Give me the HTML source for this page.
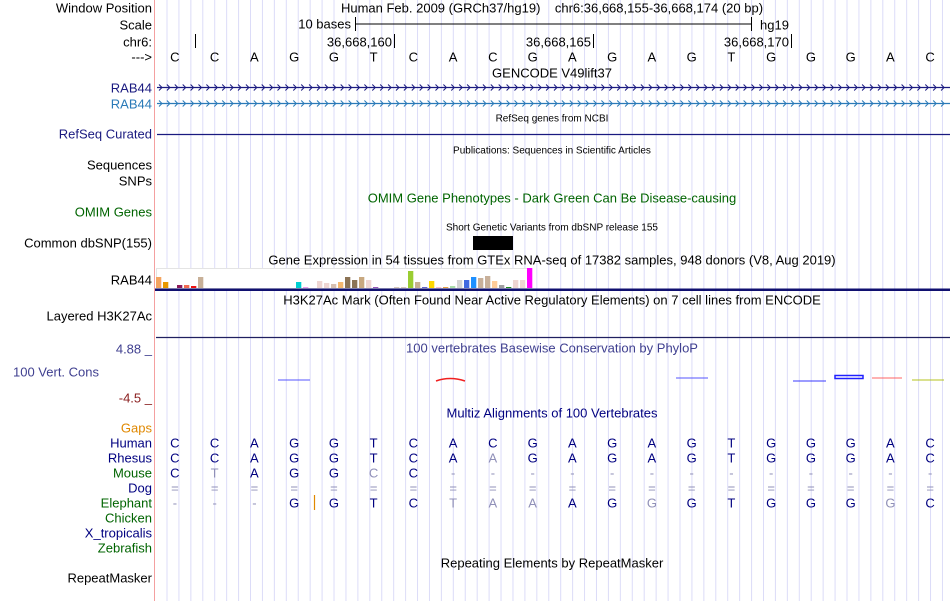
<!DOCTYPE html>
<html><head><meta charset="utf-8"><style>
html,body{margin:0;padding:0;background:#fff}
svg{display:block;font-family:"Liberation Sans",sans-serif}
text{white-space:pre}
</style></head><body>
<svg id="c" width="950" height="601" viewBox="0 0 950 601">
<g id="grid"></g>
<line x1="154.5" y1="0" x2="154.5" y2="601" stroke="#f4a0a0" stroke-width="1"/>
<g id="labels" font-size="13" text-anchor="end" dominant-baseline="central"></g>
<g id="tracks"></g>
</svg>
<script>
const NS='http://www.w3.org/2000/svg';
const svg=document.getElementById('c');
function el(tag,attrs,parent,text){const e=document.createElementNS(NS,tag);for(const k in attrs)e.setAttribute(k,attrs[k]);if(text!==undefined)e.textContent=text;(parent||svg).appendChild(e);return e;}
// data
const bases=['C','C','A','G','G','T','C','A','C','G','A','G','A','G','T','G','G','G','A','C'];
const rhesus=['C','C','A','G','G','T','C','A','A','G','A','G','A','G','T','G','G','G','A','C'];
const mouse=['C','T','A','G','G','C','C','-','-','-','-','-','-','-','-','-','-','-','-','-'];
const elephant=['-','-','-','G','G','T','C','T','A','A','A','G','G','G','T','G','G','G','G','C'];
const gtexValues=[11,6,0,3,3,2,11,0,0,0,0,0,0,0,0,0,0,0,0,0,6,1,0,7,5,4,6,11,8,11,8,1,0,0,1,1,17,6,1,7,1,1,2,8,8,11,10,12,7,3,1,8,8,20];
const gtexColors=['#f4a460','#e89800','#fff','#8b1a5a','#f06a50','#ee1111','#c8b098','#fff','#fff','#fff','#fff','#fff','#fff','#fff','#fff','#fff','#fff','#fff','#fff','#fff','#00ced1','#ee99ee','#fff','#eed5d2','#eed5d2','#d8c0b0','#f4b870','#8b7355','#8b7355','#c8a880','#eed5d2','#9955bb','#fff','#fff','#d8c8b8','#d8c8b8','#9acd32','#c8b090','#6666cc','#ffd700','#ffc0cb','#e8a040','#aaddaa','#d3d3d3','#4169e1','#1e90ff','#c8b09a','#c8b09a','#ffcc99','#a0a0a0','#228b22','#eed5d2','#eed5d2','#ff00ff'];
const labels=[['Window Position',8,'#000'],['Scale',25,'#000'],['chr6:',42,'#000'],['--->',57,'#000'],['RAB44',88,'#1a1a80'],['RAB44',104,'#2a7ab8'],['RefSeq Curated',134,'#1a1a80'],['Sequences',165,'#000'],['SNPs',181,'#000'],['OMIM Genes',212,'#006400'],['Common dbSNP(155)',243,'#000'],['RAB44',280,'#000'],['Layered H3K27Ac',316,'#000'],['4.88 _',349,'#404090'],['-4.5 _',398,'#8b2020'],['Gaps',428,'#e08800'],['Human',443,'#000080'],['Rhesus',458,'#000080'],['Mouse',473,'#006400'],['Dog',488,'#000080'],['Elephant',503,'#006400'],['Chicken',518,'#006400'],['X_tropicalis',533,'#000080'],['Zebrafish',548,'#006400'],['RepeatMasker',578,'#000']];
const X0=155, BW=39.75;
function bx(i){return X0+BW*(i+0.5);}
// grid
const grid=document.getElementById('grid');
for(let i=0;i<66;i++){const x=167+i*11.93;el('line',{x1:x,y1:0,x2:x,y2:601,stroke:'#dcdcf8','stroke-width':1},grid);}
// labels
const lg=document.getElementById('labels');
labels.forEach(l=>{const t=el('text',{x:152,y:l[1],fill:l[2]},lg,l[0]);

});
const vc=el('text',{x:13,y:372,fill:'#404090','font-size':13,'dominant-baseline':'central'},svg,'100 Vert. Cons');


const T=document.getElementById('tracks');
function ctext(x,y,s,fill,size,name){const t=el('text',{x:x,y:y,fill:fill,'font-size':size,'text-anchor':'middle','dominant-baseline':'central'},T,s);return t;}
ctext(552,8,'Human Feb. 2009 (GRCh37/hg19)    chr6:36,668,155-36,668,174 (20 bp)','#000',13,'position-title');
// scale
el('text',{x:351,y:24,'font-size':13,'text-anchor':'end','dominant-baseline':'central'},T,'10 bases');
el('line',{x1:355,y1:24,x2:751,y2:24,stroke:'#000'},T);
el('line',{x1:355.5,y1:17,x2:355.5,y2:31,stroke:'#000'},T);
el('line',{x1:751.5,y1:17,x2:751.5,y2:31,stroke:'#000'},T);
el('text',{x:760,y:25,'font-size':13,'dominant-baseline':'central'},T,'hg19');
// ruler ticks
[[195,''],[394,'36,668,160'],[593,'36,668,165'],[791,'36,668,170']].forEach(r=>{el('line',{x1:r[0]+.5,y1:34,x2:r[0]+.5,y2:48,stroke:'#000'},T);if(r[1])el('text',{x:r[0]-2,y:42,'font-size':13,'text-anchor':'end','dominant-baseline':'central'},T,r[1]);});
bases.forEach((b,i)=>ctext(bx(i),57,b,'#000',13,'base-'+i));
ctext(552,73,'GENCODE V49lift37','#000',13,'gencode-title');
// gene lines with chevrons
function gene(y,color,name){const g=el('g',{},T);
el('line',{x1:157,y1:y,x2:950,y2:y,stroke:color,'stroke-width':1.3},g);
let d='';for(let x=159;x<948;x+=7.9){d+=`M${x.toFixed(1)} ${y-3}L${(x+3).toFixed(1)} ${y}L${x.toFixed(1)} ${y+3}`;}
el('path',{d:d,stroke:color,fill:'none','stroke-width':1},g);}
gene(87.5,'#1a1a80','rab44-gencode');gene(103.5,'#2a7ab8','rab44-gencode-2');
ctext(552,119,'RefSeq genes from NCBI','#000',10,'refseq-title');
el('line',{x1:157,y1:134.5,x2:950,y2:134.5,stroke:'#1a1a80','stroke-width':1.3},T);
ctext(552,151,'Publications: Sequences in Scientific Articles','#000',10,'publications-title');
ctext(552,198,'OMIM Gene Phenotypes - Dark Green Can Be Disease-causing','#006400',13,'omim-title');
ctext(552,228,'Short Genetic Variants from dbSNP release 155','#000',10,'dbsnp-title');
el('rect',{x:473,y:236,width:40,height:14,fill:'#000'},T);
ctext(552,260,'Gene Expression in 54 tissues from GTEx RNA-seq of 17382 samples, 948 donors (V8, Aug 2019)','#000',13,'gtex-title');
el('rect',{x:156.5,y:268.5,width:375,height:20,fill:'#fff',stroke:'#e4e4e4'},T);
gtexValues.forEach((v,i)=>{if(!v)return;const r=el('rect',{x:156+i*7,y:288-v,width:5.3,height:v,fill:gtexColors[i]},T);

});
el('rect',{x:155,y:288.5,width:795,height:2.5,fill:'#101070'},T);
ctext(552,300,'H3K27Ac Mark (Often Found Near Active Regulatory Elements) on 7 cell lines from ENCODE','#000',13,'h3k27ac-title');
el('line',{x1:156,y1:337.5,x2:950,y2:337.5,stroke:'#202060','stroke-width':1.2},T);
ctext(552,348,'100 vertebrates Basewise Conservation by PhyloP','#404090',13,'phylop-title');
// conservation marks
[[278,310,380,'#4040ff'],[676,708,378,'#4040ff'],[793,826,381,'#2020ff'],[872,902,378,'#ff5050'],[912,944,380,'#aabb00']].forEach(s=>el('line',{x1:s[0],y1:s[2],x2:s[1],y2:s[2],stroke:s[3],'stroke-width':1.3,opacity:.7},T));
el('path',{d:'M436 381Q450 376 465 381',stroke:'#f02020',fill:'none','stroke-width':1.5},T);
el('rect',{x:835,y:375.5,width:28,height:3,fill:'none',stroke:'#2020ff','stroke-width':1.5},T);
ctext(552,413,'Multiz Alignments of 100 Vertebrates','#000080',13,'multiz-title');
// alignments
const N='#000080',G='#9090b8';
bases.forEach((b,i)=>{ctext(bx(i),443,b,N,13,'human-base');
ctext(bx(i),458,rhesus[i],rhesus[i]===b?N:G,13,'rhesus-base');
ctext(bx(i),473,mouse[i],(mouse[i]===b)?N:G,13,'mouse-base');
ctext(bx(i),488,'=',G,13,'dog-base');
ctext(bx(i),503,elephant[i],(elephant[i]===b)?N:G,13,'elephant-base');});
el('line',{x1:314.5,y1:495,x2:314.5,y2:510,stroke:'#e08800','stroke-width':1.2},T);
ctext(552,563,'Repeating Elements by RepeatMasker','#000',13,'repeatmasker-title');
</script>
</body></html>
